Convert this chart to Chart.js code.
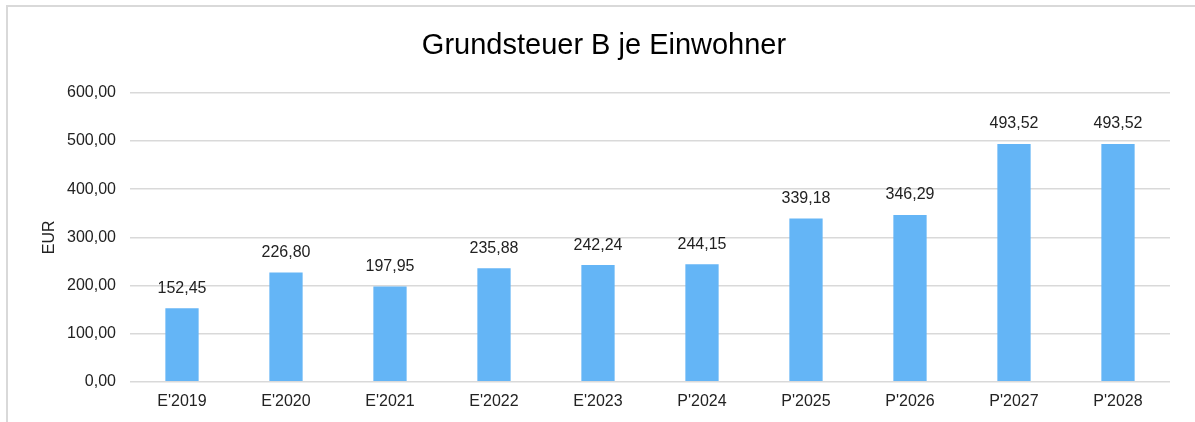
<!DOCTYPE html>
<html lang="de">
<head>
<meta charset="utf-8">
<title>Grundsteuer B je Einwohner</title>
<script src="https://cdn.jsdelivr.net/npm/chart.js@4/dist/chart.umd.min.js"></script>
<style>
  html, body { margin: 0; padding: 0; background: #fff; overflow: hidden; }
  #wrap { position: relative; width: 1195px; height: 422px; }
  #frame {
    position: absolute; left: 6px; top: 5px; width: 1200px; height: 430px;
    border-left: 2px solid #d9d9d9; border-top: 2px solid #d9d9d9;
  }
  #chart { position: absolute; left: 0; top: 0; }
</style>
</head>
<body>
<div id="wrap">
  <div id="frame"></div>
  <canvas id="chart" width="1195" height="422"></canvas>
</div>
<script>
// data
const categories = ["E'2019", "E'2020", "E'2021", "E'2022", "E'2023", "P'2024", "P'2025", "P'2026", "P'2027", "P'2028"];
const perResident = [152.45, 226.80, 197.95, 235.88, 242.24, 244.15, 339.18, 346.29, 493.52, 493.52];
const yTicks = [0, 100, 200, 300, 400, 500, 600];

const FONT = "'Liberation Sans', Arial, sans-serif";
const fmt = v => v.toLocaleString('de-DE', { minimumFractionDigits: 2, maximumFractionDigits: 2 });

// draw value labels above each bar
const valueLabels = {
  id: 'valueLabels',
  afterDatasetsDraw(chart) {
    const ctx = chart.ctx;
    const meta = chart.getDatasetMeta(0);
    ctx.save();
    ctx.font = '16px ' + FONT;
    ctx.fillStyle = '#222';
    ctx.textAlign = 'center';
    ctx.textBaseline = 'middle';
    meta.data.forEach((bar, i) => {
      ctx.fillText(fmt(perResident[i]), bar.x, bar.y - 20);
    });
    ctx.restore();
  }
};

new Chart(document.getElementById('chart'), {
  type: 'bar',
  data: {
    labels: categories,
    datasets: [{
      data: perResident,
      backgroundColor: '#64b5f6',
      borderWidth: 0,
      barPercentage: 0.32,
      categoryPercentage: 1
    }]
  },
  options: {
    responsive: false,
    animation: false,
    layout: { padding: { left: 38, right: 25, top: 0, bottom: 1 } },
    plugins: {
      legend: { display: false },
      tooltip: { enabled: false },
      title: {
        display: true,
        text: 'Grundsteuer B je Einwohner',
        color: '#000',
        font: { family: FONT, size: 29, weight: 'normal' },
        padding: { top: 29, bottom: 29 }
      }
    },
    scales: {
      x: {
        grid: { display: false, drawTicks: false },
        border: { display: false },
        ticks: { color: '#222', font: { family: FONT, size: 16 }, padding: 10, maxRotation: 0 }
      },
      y: {
        min: 0,
        max: 600,
        afterFit: scale => { scale.width = 92; },
        afterBuildTicks: scale => { scale.ticks = yTicks.map(v => ({ value: v })); },
        grid: { color: '#d9d9d9', lineWidth: 1.5, drawTicks: false },
        border: { display: false },
        title: { display: true, text: 'EUR', color: '#222', font: { family: FONT, size: 16 }, padding: 2 },
        ticks: { color: '#222', font: { family: FONT, size: 16 }, padding: 14, callback: v => fmt(v) }
      }
    }
  },
  plugins: [valueLabels]
});
</script>
</body>
</html>
